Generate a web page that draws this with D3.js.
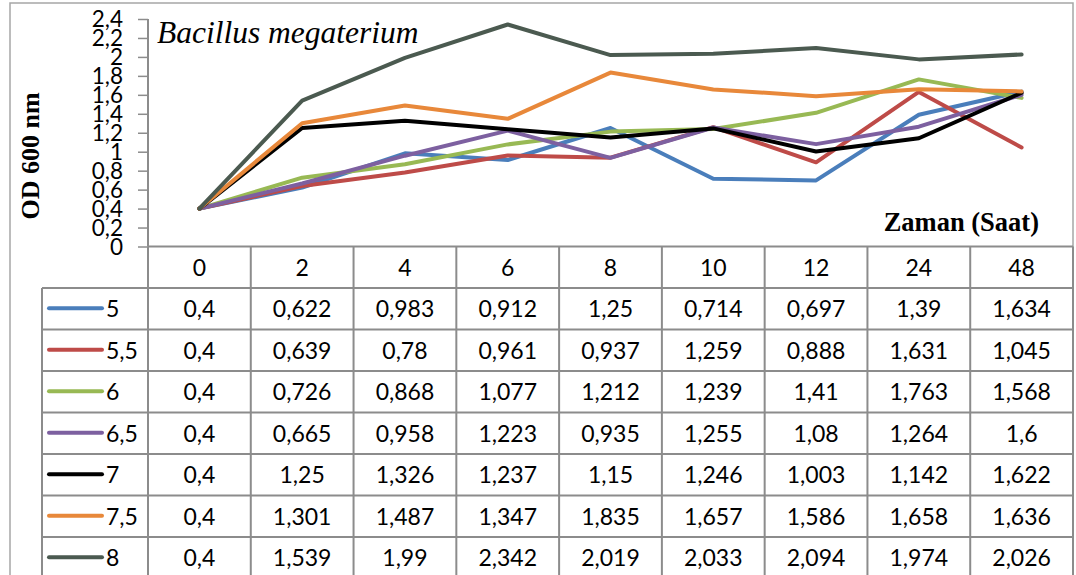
<!DOCTYPE html>
<html>
<head>
<meta charset="utf-8">
<script src="https://cdn.jsdelivr.net/npm/d3@7"></script>
<style>
  html, body { margin: 0; padding: 0; background: #fff; }
  svg { display: block; }
</style>
</head>
<body>
<svg id="chart" width="1076" height="575"></svg>
<script>
// Time points (hours) and OD600 readings for each pH value
const categories = ["0", "2", "4", "6", "8", "10", "12", "24", "48"];
const seriesNames = ["5", "5,5", "6", "6,5", "7", "7,5", "8"];
const seriesColors = ["#4A7EBB", "#BE4B48", "#98B954", "#7D60A0", "#000000", "#E8883A", "#4B5A50"];
const ph5   = [0.4, 0.622, 0.983, 0.912, 1.25, 0.714, 0.697, 1.39, 1.634];
const ph55  = [0.4, 0.639, 0.78, 0.961, 0.937, 1.259, 0.888, 1.631, 1.045];
const ph6   = [0.4, 0.726, 0.868, 1.077, 1.212, 1.239, 1.41, 1.763, 1.568];
const ph65  = [0.4, 0.665, 0.958, 1.223, 0.935, 1.255, 1.08, 1.264, 1.6];
const ph7   = [0.4, 1.25, 1.326, 1.237, 1.15, 1.246, 1.003, 1.142, 1.622];
const ph75  = [0.4, 1.301, 1.487, 1.347, 1.835, 1.657, 1.586, 1.658, 1.636];
const ph8   = [0.4, 1.539, 1.99, 2.342, 2.019, 2.033, 2.094, 1.974, 2.026];
const yTicks = [0, 0.2, 0.4, 0.6, 0.8, 1, 1.2, 1.4, 1.6, 1.8, 2, 2.2, 2.4];
const yTickLabels = ["0", "0,2", "0,4", "0,6", "0,8", "1", "1,2", "1,4", "1,6", "1,8", "2", "2,2", "2,4"];

const seriesValues = [ph5, ph55, ph6, ph65, ph7, ph75, ph8];
const series = seriesNames.map((name, i) => ({ name, color: seriesColors[i], values: seriesValues[i] }));

const svg = d3.select("#chart");
const gridColor = "#8c8c8c";
const sansFont = "Lato, 'Open Sans', sans-serif";
const serifFont = "'Liberation Serif', 'Times New Roman', serif";

const plotLeft = 148, plotRight = 1073, plotTop = 19, plotBottom = 246.5;
const legendLeft = 42;
const rowH = 41.5;

const x = d3.scaleBand().domain(categories).range([plotLeft, plotRight]).padding(0);
const y = d3.scaleLinear().domain([0, 2.4]).range([plotBottom, plotTop]);
const cx = c => x(c) + x.bandwidth() / 2;

// chart area frame
svg.append("rect")
  .attr("x", 10).attr("y", 3).attr("width", 1063).attr("height", 600)
  .attr("fill", "none").attr("stroke", "#a6a6a6").attr("stroke-width", 1.5);

// y axis
const yAxis = d3.axisLeft(y)
  .tickValues(yTicks)
  .tickSize(10)
  .tickFormat((d, i) => yTickLabels[i]);
const gy = svg.append("g").attr("transform", `translate(${plotLeft},0)`).call(yAxis);
gy.select(".domain").attr("stroke", gridColor).attr("stroke-width", 2)
  .attr("d", `M0,${plotTop}V${plotBottom}`);
gy.selectAll(".tick line").attr("stroke", gridColor).attr("stroke-width", 1.5);
gy.selectAll(".tick text")
  .attr("x", -25).attr("dy", "0.34em")
  .attr("fill", "#000")
  .style("font-family", sansFont).style("font-size", "22.5px");

// series lines
const line = d3.line()
  .x((d, i) => cx(categories[i]))
  .y(d => y(d));
svg.append("g").selectAll("path")
  .data(series)
  .join("path")
  .attr("d", d => line(d.values))
  .attr("fill", "none")
  .attr("stroke", d => d.color)
  .attr("stroke-width", 4)
  .attr("stroke-linejoin", "round")
  .attr("stroke-linecap", "round");

// titles
svg.append("text")
  .attr("x", 157).attr("y", 43)
  .style("font-family", serifFont).style("font-style", "italic").style("font-size", "31.5px")
  .text("Bacillus megaterium");

svg.append("text")
  .attr("x", 1039).attr("y", 231).attr("text-anchor", "end")
  .style("font-family", serifFont).style("font-weight", "bold").style("font-size", "26.5px")
  .text("Zaman (Saat)");

svg.append("text")
  .attr("transform", "translate(39,156) rotate(-90)")
  .attr("text-anchor", "middle")
  .style("font-family", serifFont).style("font-weight", "bold").style("font-size", "26px")
  .text("OD 600 nm");

// data table
const table = svg.append("g");
const headerTop = plotBottom;
const bodyTop = headerTop + rowH;
const tableBottom = bodyTop + rowH * series.length;

// horizontal rules
table.append("line")
  .attr("x1", plotLeft).attr("x2", plotRight).attr("y1", headerTop).attr("y2", headerTop)
  .attr("stroke", gridColor).attr("stroke-width", 2);
d3.range(series.length + 1).forEach(i => {
  const yy = bodyTop + i * rowH;
  table.append("line")
    .attr("x1", legendLeft).attr("x2", plotRight).attr("y1", yy).attr("y2", yy)
    .attr("stroke", gridColor).attr("stroke-width", 2);
});
// vertical rules
table.append("line")
  .attr("x1", legendLeft).attr("x2", legendLeft).attr("y1", bodyTop).attr("y2", tableBottom)
  .attr("stroke", gridColor).attr("stroke-width", 2);
categories.forEach(c => {
  table.append("line")
    .attr("x1", x(c)).attr("x2", x(c)).attr("y1", headerTop).attr("y2", tableBottom)
    .attr("stroke", gridColor).attr("stroke-width", 2);
});
table.append("line")
  .attr("x1", plotRight).attr("x2", plotRight).attr("y1", headerTop).attr("y2", tableBottom)
  .attr("stroke", gridColor).attr("stroke-width", 2);

// header labels
table.selectAll("text.hdr")
  .data(categories)
  .join("text")
  .attr("class", "hdr")
  .attr("x", d => cx(d)).attr("y", headerTop + 29.5)
  .attr("text-anchor", "middle")
  .style("font-family", sansFont).style("font-size", "23px")
  .text(d => d);

// body rows
const fmt = v => String(v).replace(".", ",");
series.forEach((s, r) => {
  const rowTop = bodyTop + r * rowH;
  const g = table.append("g");
  g.append("line")
    .attr("x1", 49).attr("x2", 102)
    .attr("y1", rowTop + rowH / 2 - 0.5).attr("y2", rowTop + rowH / 2 - 0.5)
    .attr("stroke", s.color).attr("stroke-width", 4).attr("stroke-linecap", "round");
  g.append("text")
    .attr("x", 106).attr("y", rowTop + 29)
    .style("font-family", sansFont).style("font-size", "23px")
    .text(s.name);
  g.selectAll("text.val")
    .data(s.values)
    .join("text")
    .attr("class", "val")
    .attr("x", (d, i) => cx(categories[i])).attr("y", rowTop + 29)
    .attr("text-anchor", "middle")
    .style("font-family", sansFont).style("font-size", "23px")
    .text(d => fmt(d));
});
</script>
</body>
</html>
